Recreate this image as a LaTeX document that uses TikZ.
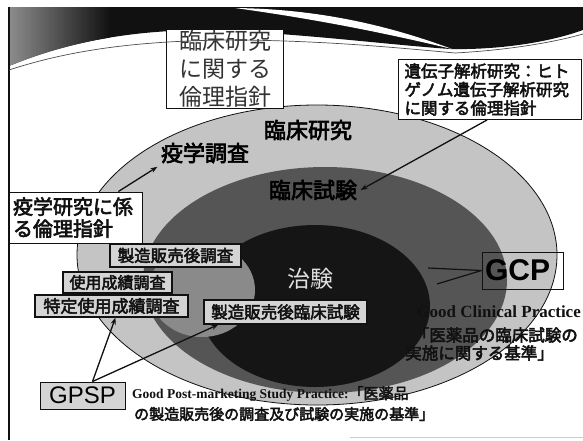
\documentclass[tikz,border=0pt]{standalone}
\usepackage{fontspec}
\setmainfont{Liberation Serif}
\newfontfamily\jp{Noto Sans CJK JP}
\newfontfamily\jpb[FakeBold=3]{Noto Sans CJK JP}
\newfontfamily\arl{Liberation Sans}
\usetikzlibrary{arrows.meta,calc}
\definecolor{outerc}{HTML}{C4C4C4}
\definecolor{midc}{HTML}{555555}
\definecolor{blobc}{HTML}{8A8A8A}
\definecolor{innerc}{HTML}{151515}
\definecolor{boxc}{HTML}{D4D4D4}
\definecolor{inkc}{HTML}{111111}
\definecolor{kent}{HTML}{333333}
\definecolor{lightt}{HTML}{E0E0E0}
\begin{document}
\begin{tikzpicture}[x=1pt,y=-1pt,
  fs/.style={font=\jpb\fontsize{#1}{#1}\selectfont},
  lbox/.style={draw=inkc, line width=1.1pt, fill=boxc, inner sep=0pt, text=inkc},
  wbox/.style={draw=inkc, line width=1pt, fill=white, inner sep=0pt},
  arr/.style={-{Stealth[length=7pt,width=5pt]}, line width=1.3pt, draw=inkc, fill=inkc},
  cline/.style={line width=1.2pt, draw=inkc}]
\useasboundingbox (0,0) rectangle (583,440);
\fill[white] (0,0) rectangle (583,440);
% header band
\begin{scope}
\clip (9,7) -- (583,7) -- (583,30) .. controls (550,42) and (500,50) .. (450,49)
  .. controls (380,44) and (290,32) .. (200,30) .. controls (120,31) and (60,45) .. (9,66) -- cycle;
\fill[inkc] (0,0) rectangle (583,80);
\shade[left color=black!45, right color=inkc] (9,0) rectangle (110,80);
\end{scope}
\fill[white] (235,8) .. controls (320,9) and (390,26) .. (452,49)
  .. controls (385,33) and (315,19) .. (235,8) -- cycle;
\draw[inkc, line width=1.2pt] (9,7) -- (9,440);
\draw[black!20, line width=0.6pt] (350,437) -- (583,437);
% ellipses
\filldraw[fill=outerc, draw=inkc, line width=0.8pt] (317,255) ellipse [x radius=240pt, y radius=150pt];
\fill[midc] (325,280) ellipse [x radius=182pt, y radius=113pt];
\fill[innerc] (315,306) ellipse [x radius=115pt, y radius=81pt];
\fill[blobc] (202,290) ellipse [x radius=53pt, y radius=47pt];
% labels in ellipses
\node[fs=22, text=black] (rinken) at (308,130) {臨床研究};
\node[fs=22, text=black] (ekichosa) at (205,153) {疫学調査};
\node[fs=22, text=black] (shiken) at (313,190) {臨床試験};
\node[font=\jp\fontsize{23}{23}\selectfont, text=lightt] (chiken) at (310,279) {治験};
% boxes
\node[wbox, minimum width=117pt, minimum height=79pt, align=center,
  font=\jp\fontsize{23}{28}\selectfont, text=kent] (kenkyu) at (225,68.5) {臨床研究\\に関する\\倫理指針};
\node[wbox, text width=171pt, inner xsep=6pt, minimum height=60pt, align=left, text=inkc,
  font=\jpb\fontsize{16.5}{18.5}\selectfont] (iden) at (490,89.5) {遺伝子解析研究：ヒト\\ゲノム遺伝子解析研究\\に関する倫理指針};
\node[wbox, text width=125pt, inner xsep=4pt, minimum height=51pt, align=left, text=inkc,
  font=\jpb\fontsize{20}{22}\selectfont] (eki) at (75.5,217.5) {疫学研究に係\\る倫理指針};
\node[lbox, minimum width=131pt, minimum height=23pt, fs=16.5] (sezochosa) at (175.5,255.5) {製造販売後調査};
\node[lbox, minimum width=109pt, minimum height=21pt, fs=16] (shiyo) at (117.5,282.5) {使用成績調査};
\node[lbox, minimum width=153pt, minimum height=22pt, fs=17] (tokutei) at (111.5,306) {特定使用成績調査};
\node[lbox, minimum width=163pt, minimum height=24pt, fs=16.5] (srin) at (285.5,312) {製造販売後臨床試験};
\node[draw=inkc, line width=1pt, text width=75pt, inner xsep=3pt, inner ysep=0pt, minimum height=37pt, align=left,
  font=\arl\bfseries\fontsize{30}{30}\selectfont, text=black] (gcp) at (522.5,270.5) {GCP};
\node[draw=inkc, line width=1pt, fill=boxc, minimum width=85pt, minimum height=27pt, inner sep=0pt,
  font=\arl\fontsize{24}{24}\selectfont, text=black] (gpsp) at (82.5,395.5) {GPSP};
% explanatory texts
\node[anchor=east, inner sep=0pt, text=inkc, font=\bfseries\fontsize{17}{17}\selectfont] (gcpt1) at (581,312) {Good Clinical Practice};
\node[anchor=east, inner sep=0pt, text=inkc, fs=16.5] (gcpt2) at (578,335) {「医薬品の臨床試験の};
\node[anchor=east, inner sep=0pt, text=inkc, fs=16.5] (gcpt3) at (554,353) {実施に関する基準」};
\node[anchor=west, inner sep=0pt, text=inkc] (gpspt1) at (132,394) {\bfseries\fontsize{13.5}{14}\selectfont Good Post-marketing Study Practice:{\mdseries\jpb\fontsize{15}{15}\selectfont 「医薬品}};
\node[anchor=west, inner sep=0pt, text=inkc, fs=15] (gpspt2) at (134,414) {の製造販売後の調査及び試験の実施の基準」};
% connectors
\coordinate (g1) at (428,268);
\coordinate (g2) at (437,284);
\draw[arr] ([xshift=-3pt]iden.south) -- (shiken.east);
\draw[arr] ($(eki.north west)!0.82!(eki.north east)$) -- (ekichosa.south west);
\draw[arr] ([xshift=10pt]gpsp.north) -- ([xshift=4pt]tokutei.south);
\draw[arr] ([xshift=10pt]gpsp.north) -- ([xshift=15pt]srin.south west);
\draw[cline] (gcp.west) -- (g1);
\draw[cline] (gcp.west) -- (g2);
% thin header line
\draw[black!70, line width=0.7pt] (9,70) .. controls (70,50) and (140,40) .. (240,40)
  .. controls (330,41) and (400,48) .. (455,53) .. controls (510,50) and (555,42) .. (583,34);
\end{tikzpicture}
\end{document}
